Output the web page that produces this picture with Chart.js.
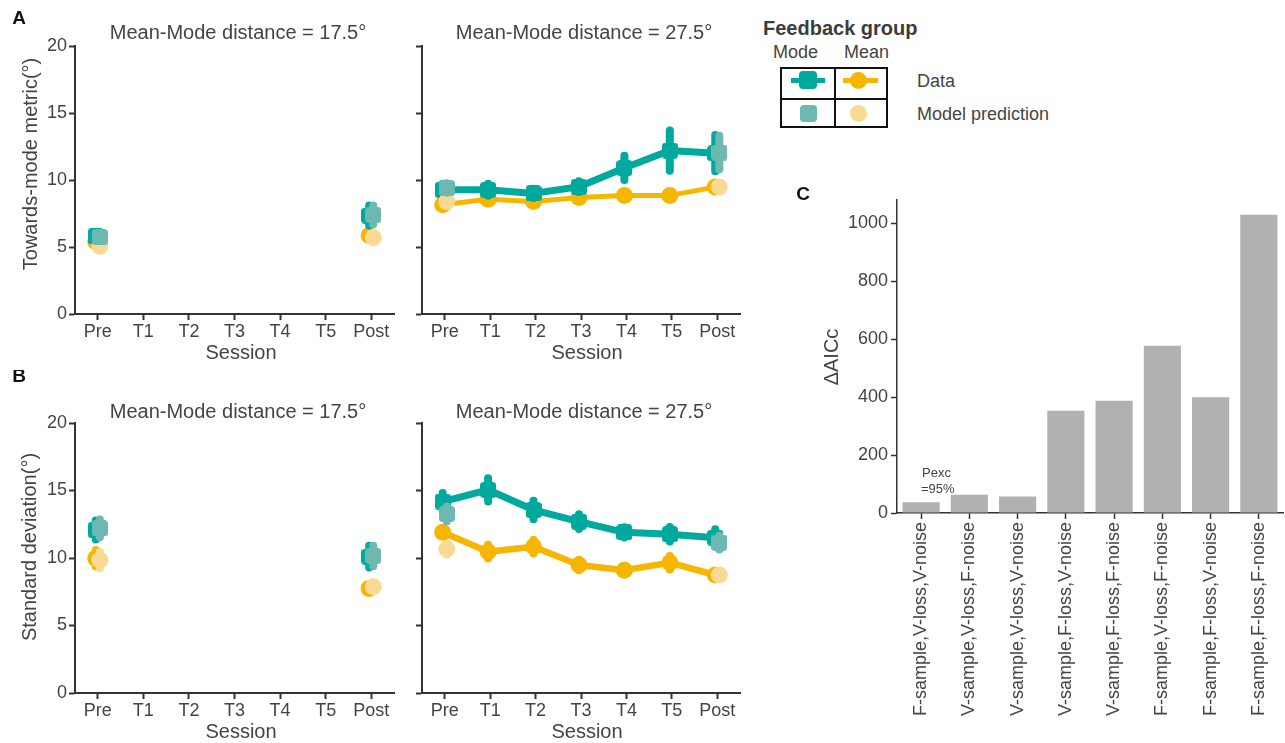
<!DOCTYPE html>
<html><head><meta charset="utf-8">
<script src="https://cdn.jsdelivr.net/npm/chart.js@4"></script>
<style>
body{margin:0;background:#fff;width:1285px;height:743px;overflow:hidden;position:relative;font-family:'Liberation Sans',Arial,sans-serif;color:#444}
.p{position:absolute}
.p canvas{display:block}
.t{position:absolute;white-space:nowrap;line-height:1}
.sq{position:absolute;border-radius:4px}
.ci{position:absolute;border-radius:50%}
</style></head><body>
<div class="p" style="left:0;top:0"><canvas id="a17" width="400" height="370"></canvas></div>
<div class="p" style="left:400px;top:0"><canvas id="a27" width="345" height="370"></canvas></div>
<div class="p" style="left:0;top:370px"><canvas id="b17" width="400" height="373"></canvas></div>
<div class="p" style="left:400px;top:370px"><canvas id="b27" width="345" height="373"></canvas></div>
<div class="p" style="left:790px;top:180px"><canvas id="c" width="495" height="563"></canvas></div>

<!-- legend -->
<div class="t" style="left:763px;top:18px;font-size:20px;font-weight:bold;color:#3c3c3c">Feedback group</div>
<div class="t" style="left:773px;top:43px;font-size:18px">Mode</div>
<div class="t" style="left:844px;top:43px;font-size:18px">Mean</div>
<div style="position:absolute;left:780px;top:67px;width:108px;height:61px;border:2px solid #111;box-sizing:border-box"></div>
<div style="position:absolute;left:834px;top:67px;width:2px;height:61px;background:#111"></div>
<div style="position:absolute;left:780px;top:98px;width:108px;height:2px;background:#111"></div>
<div style="position:absolute;left:791px;top:78px;width:34px;height:5px;background:#00A99D"></div>
<div class="sq" style="left:799px;top:71px;width:18px;height:18px;background:#00A99D"></div>
<div style="position:absolute;left:843px;top:78px;width:35px;height:5px;background:#F6B600"></div>
<div class="ci" style="left:850px;top:72px;width:17px;height:17px;background:#F6B600"></div>
<div class="sq" style="left:800px;top:105px;width:17px;height:17px;background:#6DB8B1"></div>
<div class="ci" style="left:850px;top:105px;width:17px;height:17px;background:#F8DA94"></div>
<div class="t" style="left:917px;top:72px;font-size:18px">Data</div>
<div class="t" style="left:917px;top:105px;font-size:18px">Model prediction</div>

<script>
// ---------------- DATA ----------------
const sessions = ['Pre', 'T1', 'T2', 'T3', 'T4', 'T5', 'Post'];

// Panel A: towards-mode metric, Mean-Mode distance = 17.5°
const a17ModeData     = [5.8, null, null, null, null, null, 7.35];
const a17ModeErr      = [0.4, null, null, null, null, null, 1.05];
const a17MeanData     = [5.4, null, null, null, null, null, 5.85];
const a17MeanErr      = [0.3, null, null, null, null, null, 0.3];
const a17ModeModel    = [5.75, null, null, null, null, null, 7.4];
const a17ModeModelErr = [0.4, null, null, null, null, null, 1.0];
const a17MeanModel    = [5.05, null, null, null, null, null, 5.7];
const a17MeanModelErr = [0.3, null, null, null, null, null, 0.3];

// Panel A: Mean-Mode distance = 27.5°
const a27ModeData     = [9.27, 9.27, 9.0, 9.5, 10.9, 12.2, 12.0];
const a27ModeErr      = [0.75, 0.75, 0.65, 0.7, 1.2, 1.8, 1.65];
const a27MeanData     = [8.15, 8.57, 8.4, 8.7, 8.85, 8.85, 9.47];
const a27MeanErr      = [0.35, 0.35, 0.35, 0.35, 0.35, 0.35, 0.35];
const a27ModeModel    = [9.4, null, null, null, null, null, 12.05];
const a27ModeModelErr = [0.65, null, null, null, null, null, 1.55];
const a27MeanModel    = [8.4, null, null, null, null, null, 9.47];
const a27MeanModelErr = [0.35, null, null, null, null, null, 0.35];

// Panel B: standard deviation, Mean-Mode distance = 17.5°
const b17ModeData     = [12.08, null, null, null, null, null, 10.1];
const b17ModeErr      = [1.0, null, null, null, null, null, 1.1];
const b17MeanData     = [9.98, null, null, null, null, null, 7.75];
const b17MeanErr      = [0.9, null, null, null, null, null, 0.4];
const b17ModeModel    = [12.2, null, null, null, null, null, 10.15];
const b17ModeModelErr = [0.95, null, null, null, null, null, 1.05];
const b17MeanModel    = [9.85, null, null, null, null, null, 7.87];
const b17MeanModelErr = [0.9, null, null, null, null, null, 0.4];

// Panel B: Mean-Mode distance = 27.5°
const b27ModeData     = [14.18, 15.05, 13.56, 12.7, 11.9, 11.76, 11.5];
const b27ModeErr      = [0.93, 1.16, 0.98, 0.84, 0.68, 0.83, 0.93];
const b27MeanData     = [11.9, 10.47, 10.84, 9.48, 9.1, 9.65, 8.74];
const b27MeanErr      = [0.5, 0.8, 0.8, 0.68, 0.58, 0.79, 0.4];
const b27ModeModel    = [13.27, null, null, null, null, null, 11.14];
const b27ModeModelErr = [0.85, null, null, null, null, null, 0.8];
const b27MeanModel    = [10.67, null, null, null, null, null, 8.74];
const b27MeanModelErr = [0.7, null, null, null, null, null, 0.4];

// Panel C
const modelNames = ['F-sample,V-loss,V-noise', 'V-sample,V-loss,F-noise', 'V-sample,V-loss,V-noise',
  'V-sample,F-loss,V-noise', 'V-sample,F-loss,F-noise', 'F-sample,V-loss,F-noise',
  'F-sample,F-loss,V-noise', 'F-sample,F-loss,F-noise'];
const deltaAICc = [37, 63, 57, 353, 387, 577, 399, 1029];

// ---------------- STYLE ----------------
const FONT = "'Liberation Sans', Arial, sans-serif";
const TXT = '#444';
const TEAL = '#00A99D', GOLD = '#F6B600', TEAL_M = '#6DB8B1', GOLD_M = '#F8DA94';
const DODGE = 0.045;
const ERR_W = 8;

function squareMarker(color, size, r) {
  const c = document.createElement('canvas');
  c.width = size; c.height = size;
  const g = c.getContext('2d');
  g.fillStyle = color;
  g.beginPath();
  g.moveTo(r, 0); g.lineTo(size - r, 0); g.arcTo(size, 0, size, r, r);
  g.lineTo(size, size - r); g.arcTo(size, size, size - r, size, r);
  g.lineTo(r, size); g.arcTo(0, size, 0, size - r, r);
  g.lineTo(0, r); g.arcTo(0, 0, r, 0, r);
  g.closePath(); g.fill();
  return c;
}
const SQ_DATA = squareMarker(TEAL, 16, 3.5);
const SQ_MODEL = squareMarker(TEAL_M, 16, 3.5);

const errorBars = {
  id: 'errorBars',
  beforeDatasetDraw(chart, args) {
    const ds = chart.data.datasets[args.index];
    if (!ds.errors) return;
    const xs = chart.scales.x, ys = chart.scales.y, ctx = chart.ctx;
    const w = ds.errWidth;
    ctx.save();
    ctx.strokeStyle = ds.errColor;
    ctx.lineWidth = w;
    ctx.lineCap = 'round';
    ds.data.forEach((p, i) => {
      const e = ds.errors[i];
      if (p.y == null || e == null) return;
      const x = xs.getPixelForValue(p.x);
      const yLo = ys.getPixelForValue(p.y - e) - w / 2;
      const yHi = ys.getPixelForValue(p.y + e) + w / 2;
      if (yLo <= yHi) return;
      ctx.beginPath();
      ctx.moveTo(x, yLo);
      ctx.lineTo(x, yHi);
      ctx.stroke();
    });
    ctx.restore();
  }
};
function texts(items) {
  return {
    id: 'texts',
    afterDraw(chart) {
      const ctx = chart.ctx;
      items.forEach(t => {
        ctx.save();
        ctx.font = t.font;
        ctx.fillStyle = t.color || TXT;
        ctx.textAlign = t.align || 'center';
        ctx.textBaseline = 'middle';
        ctx.translate(t.x, t.y);
        if (t.rot) ctx.rotate(t.rot);
        ctx.fillText(t.text, 0, 0);
        ctx.restore();
      });
    }
  };
}
function pts(vals, dx) { return vals.map((v, i) => ({ x: i + dx, y: v })); }
const axisLook = () => ({
  border: { display: true, color: '#333', width: 2 },
  grid: { display: true, drawOnChartArea: false, drawTicks: true, tickLength: 6, tickWidth: 2, tickColor: '#333' }
});

function panel(id, d, cfg) {
  const datasets = [
    { data: pts(d.modeModel, DODGE), showLine: false, pointStyle: SQ_MODEL, pointRadius: 8, pointBorderWidth: 0,
      borderColor: TEAL_M, errors: d.modeModelErr, errColor: TEAL_M, errWidth: ERR_W },
    { data: pts(d.meanModel, DODGE), showLine: false, pointStyle: 'circle', pointRadius: 8.5,
      pointBackgroundColor: GOLD_M, pointBorderWidth: 0, borderColor: GOLD_M,
      errors: d.meanModelErr, errColor: GOLD_M, errWidth: ERR_W },
    { data: pts(d.modeData, -DODGE), showLine: cfg.line, spanGaps: false, borderColor: TEAL, borderWidth: 7,
      borderJoinStyle: 'round', borderCapStyle: 'round',
      pointStyle: SQ_DATA, pointRadius: 8, pointBorderWidth: 0,
      errors: d.modeErr, errColor: TEAL, errWidth: ERR_W },
    { data: pts(d.meanData, -DODGE), showLine: cfg.line, spanGaps: false, borderColor: GOLD, borderWidth: cfg.meanW,
      borderJoinStyle: 'round', borderCapStyle: 'round',
      pointStyle: 'circle', pointRadius: 8.5, pointBackgroundColor: GOLD, pointBorderWidth: 0,
      errors: d.meanErr, errColor: GOLD, errWidth: ERR_W }
  ];
  new Chart(document.getElementById(id), {
    type: 'line',
    data: { datasets },
    plugins: [errorBars, texts(cfg.texts)],
    options: {
      responsive: false, animation: false, events: [],
      layout: { autoPadding: false, padding: { top: cfg.top, right: cfg.right, left: 0, bottom: 0 } },
      plugins: { legend: { display: false }, tooltip: { enabled: false } },
      scales: {
        x: Object.assign(axisLook(), {
          type: 'linear', min: -0.5, max: 6.5,
          afterBuildTicks: s => { s.ticks = sessions.map((_, i) => ({ value: i })); },
          afterFit: s => { s.height = cfg.xh; },
          ticks: { callback: v => sessions[v], font: { size: 18, family: FONT }, color: TXT, padding: 1, maxRotation: 0, autoSkip: false }
        }),
        y: Object.assign(axisLook(), {
          min: 0, max: 20,
          afterFit: s => { s.width = cfg.yw; },
          ticks: { stepSize: 5, display: cfg.yLabels, font: { size: 18, family: FONT }, color: TXT, padding: 2 }
        })
      }
    }
  });
}

const TF = '20px ' + FONT;
const LF = 'bold 19px ' + FONT;

panel('a17', { modeData: a17ModeData, modeErr: a17ModeErr, meanData: a17MeanData, meanErr: a17MeanErr,
  modeModel: a17ModeModel, modeModelErr: a17ModeModelErr, meanModel: a17MeanModel, meanModelErr: a17MeanModelErr },
  { line: false, meanW: 5, top: 46, right: 6, xh: 56, yw: 75, yLabels: true,
    texts: [
      { text: 'A', x: 19, y: 19, font: LF, color: '#111' },
      { text: 'Mean-Mode distance = 17.5°', x: 238, y: 33, font: TF },
      { text: 'Session', x: 241, y: 353, font: TF },
      { text: 'Towards-mode metric(°)', x: 31, y: 164, font: TF, rot: -Math.PI / 2 }
    ] });
panel('a27', { modeData: a27ModeData, modeErr: a27ModeErr, meanData: a27MeanData, meanErr: a27MeanErr,
  modeModel: a27ModeModel, modeModelErr: a27ModeModelErr, meanModel: a27MeanModel, meanModelErr: a27MeanModelErr },
  { line: true, meanW: 5, top: 46, right: 5, xh: 56, yw: 22, yLabels: false,
    texts: [
      { text: 'Mean-Mode distance = 27.5°', x: 184, y: 33, font: TF },
      { text: 'Session', x: 187, y: 353, font: TF }
    ] });
panel('b17', { modeData: b17ModeData, modeErr: b17ModeErr, meanData: b17MeanData, meanErr: b17MeanErr,
  modeModel: b17ModeModel, modeModelErr: b17ModeModelErr, meanModel: b17MeanModel, meanModelErr: b17MeanModelErr },
  { line: false, meanW: 6.5, top: 53, right: 6, xh: 50, yw: 75, yLabels: true,
    texts: [
      { text: 'B', x: 19, y: 7, font: LF, color: '#111' },
      { text: 'Mean-Mode distance = 17.5°', x: 238, y: 42, font: TF },
      { text: 'Session', x: 241, y: 362, font: TF },
      { text: 'Standard deviation(°)', x: 30, y: 177, font: TF, rot: -Math.PI / 2 }
    ] });
panel('b27', { modeData: b27ModeData, modeErr: b27ModeErr, meanData: b27MeanData, meanErr: b27MeanErr,
  modeModel: b27ModeModel, modeModelErr: b27ModeModelErr, meanModel: b27MeanModel, meanModelErr: b27MeanModelErr },
  { line: true, meanW: 6.5, top: 53, right: 5, xh: 50, yw: 22, yLabels: false,
    texts: [
      { text: 'Mean-Mode distance = 27.5°', x: 184, y: 42, font: TF },
      { text: 'Session', x: 187, y: 362, font: TF }
    ] });

new Chart(document.getElementById('c'), {
  type: 'bar',
  data: { labels: modelNames, datasets: [{ data: deltaAICc, backgroundColor: '#B0B1B3', barPercentage: 0.77, categoryPercentage: 1 }] },
  plugins: [texts([
    { text: 'C', x: 13, y: 15, font: LF, color: '#111' },
    { text: 'ΔAICc', x: 42, y: 177, font: TF, rot: -Math.PI / 2 },
    { text: 'Pexc', x: 132, y: 293, font: '13px ' + FONT, align: 'left' },
    { text: '=95%', x: 131, y: 309, font: '13px ' + FONT, align: 'left' }
  ])],
  options: {
    responsive: false, animation: false, events: [],
    layout: { autoPadding: false, padding: { top: 20, right: 2, left: 0, bottom: 0 } },
    plugins: { legend: { display: false }, tooltip: { enabled: false } },
    scales: {
      x: {
        border: { display: true, color: '#333', width: 1.5 },
        grid: { display: true, offset: false, drawOnChartArea: false, drawTicks: true, tickLength: 6, tickWidth: 1.5, tickColor: '#333' },
        afterFit: s => { s.height = 230; },
        ticks: { minRotation: 90, maxRotation: 90, autoSkip: false, font: { size: 18, family: FONT }, color: TXT, padding: 3 }
      },
      y: {
        min: 0, max: 1080,
        border: { display: true, color: '#333', width: 1.5 },
        grid: { display: true, drawOnChartArea: false, drawTicks: true, tickLength: 6, tickWidth: 1.5, tickColor: '#333' },
        afterBuildTicks: s => { s.ticks = s.ticks.filter(t => t.value % 200 === 0); },
        afterFit: s => { s.width = 107; },
        ticks: { stepSize: 200, callback: v => String(v), font: { size: 18, family: FONT }, color: TXT, padding: 3 }
      }
    }
  }
});
</script>
</body></html>
